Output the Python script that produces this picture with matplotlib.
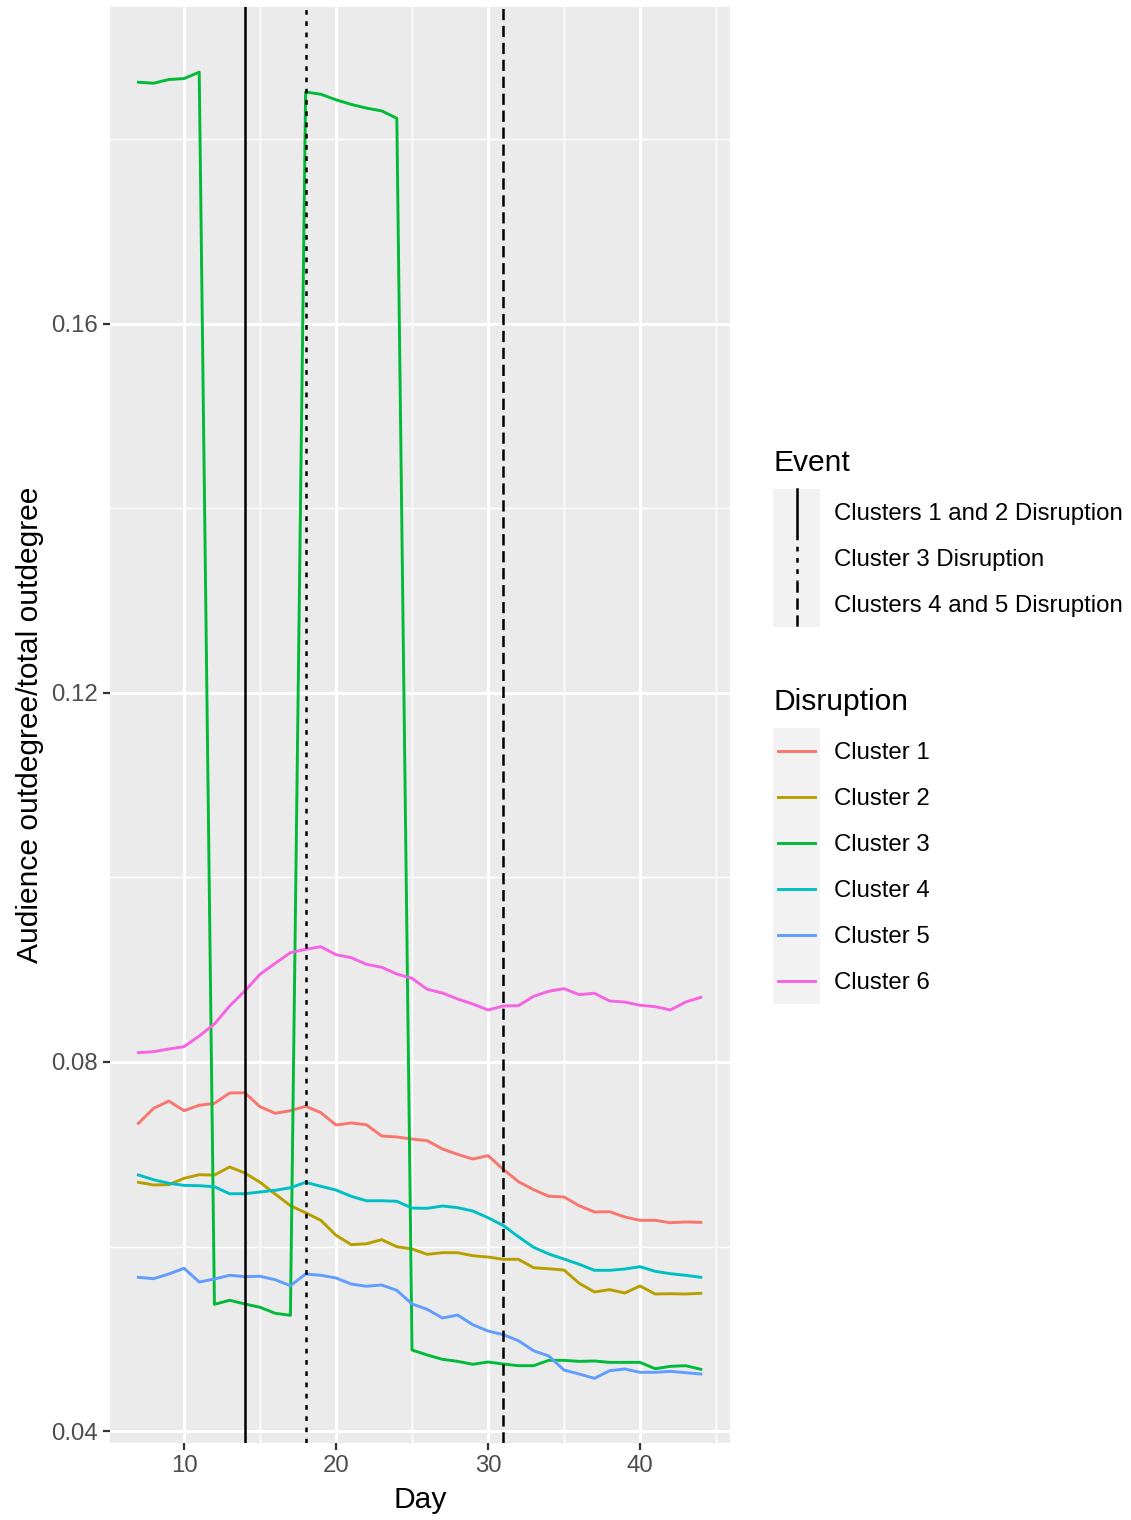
import matplotlib
matplotlib.use("Agg")
import matplotlib.pyplot as plt
from matplotlib.patches import Rectangle
from matplotlib.lines import Line2D

plt.rcParams['font.family'] = ['Liberation Sans', 'DejaVu Sans']
plt.rcParams['lines.scale_dashes'] = False

days = list(range(7, 45))

cluster1 = [0.07335, 0.07498, 0.07577, 0.07472, 0.07531, 0.07552, 0.07664, 0.07667, 0.07515, 0.07444,
            0.07472, 0.07520, 0.07451, 0.07317, 0.07339, 0.07320, 0.07198, 0.07187, 0.07165, 0.07147,
            0.07057, 0.06999, 0.06948, 0.06985, 0.06837, 0.06703, 0.06616, 0.06544, 0.06537, 0.06442,
            0.06374, 0.06377, 0.06320, 0.06284, 0.06284, 0.06258, 0.06266, 0.06262]
cluster2 = [0.06696, 0.06667, 0.06670, 0.06739, 0.06778, 0.06775, 0.06862, 0.06797, 0.06696, 0.06569,
            0.06442, 0.06366, 0.06284, 0.06122, 0.06020, 0.06030, 0.06074, 0.05998, 0.05973, 0.05915,
            0.05933, 0.05933, 0.05900, 0.05886, 0.05861, 0.05861, 0.05770, 0.05759, 0.05745, 0.05601,
            0.05507, 0.05532, 0.05496, 0.05572, 0.05485, 0.05488, 0.05485, 0.05493]
cluster3 = [0.1862, 0.1861, 0.1865, 0.1866, 0.1873, 0.05373, 0.05417, 0.05377, 0.05341, 0.05276,
            0.05254, 0.18515, 0.1849, 0.1843, 0.1838, 0.1834, 0.1831, 0.1823, 0.04878, 0.04824,
            0.04777, 0.04755, 0.04723, 0.04748, 0.04726, 0.04708, 0.04708, 0.04766, 0.04766, 0.04755,
            0.04759, 0.04744, 0.04744, 0.04744, 0.04675, 0.04701, 0.04708, 0.04669]
cluster4 = [0.06775, 0.06724, 0.06685, 0.06663, 0.06659, 0.06648, 0.06572, 0.06572, 0.06591, 0.06609,
            0.06637, 0.06696, 0.06653, 0.06612, 0.06544, 0.06496, 0.06496, 0.06490, 0.06417, 0.06414,
            0.06439, 0.06421, 0.06385, 0.06312, 0.06228, 0.06106, 0.05991, 0.05919, 0.05864, 0.05807,
            0.05742, 0.05742, 0.05756, 0.05781, 0.05731, 0.05705, 0.05688, 0.05666]
cluster5 = [0.05666, 0.05651, 0.05702, 0.05764, 0.05615, 0.05648, 0.05688, 0.05673, 0.05677, 0.05640,
            0.05575, 0.05702, 0.05688, 0.05659, 0.05593, 0.05569, 0.05583, 0.05525, 0.05377, 0.05319,
            0.05225, 0.05257, 0.05152, 0.05084, 0.05044, 0.04979, 0.04870, 0.04813, 0.04661, 0.04618,
            0.04571, 0.04654, 0.04672, 0.04636, 0.04636, 0.04647, 0.04632, 0.04618]
cluster6 = [0.08101, 0.08112, 0.08141, 0.08166, 0.08282, 0.08412, 0.08607, 0.08770, 0.08951, 0.09070,
            0.09185, 0.09222, 0.09250, 0.09163, 0.09131, 0.09059, 0.09027, 0.08954, 0.08907, 0.08788,
            0.08748, 0.08683, 0.08629, 0.08564, 0.08607, 0.08611, 0.08712, 0.08767, 0.08795, 0.08730,
            0.08745, 0.08661, 0.08650, 0.08615, 0.08600, 0.08564, 0.08650, 0.08701]

cluster_names = ["Cluster 1", "Cluster 2", "Cluster 3", "Cluster 4", "Cluster 5", "Cluster 6"]
cluster_colors = ["#F8766D", "#B79F00", "#00BA38", "#00BFC4", "#619CFF", "#F564E3"]
series = [cluster1, cluster2, cluster3, cluster4, cluster5, cluster6]

event_days = [14, 18, 31]
event_labels = ["Clusters 1 and 2 Disruption", "Cluster 3 Disruption", "Clusters 4 and 5 Disruption"]
event_styles = ["-", (0, (3.4, 4.7)), (0, (8.1, 4.1))]

x_ticks = [10, 20, 30, 40]
y_ticks = [0.04, 0.08, 0.12, 0.16]
y_tick_labels = ["0.04", "0.08", "0.12", "0.16"]

W, H = 1131, 1520
fig = plt.figure(figsize=(W / 100, H / 100), dpi=100)
fig.patch.set_facecolor("white")

L, R, T, B = 110, 730, 7, 1443
ax = fig.add_axes([L / W, 1 - B / H, (R - L) / W, (B - T) / H])
ax.set_facecolor("#EBEBEB")
for s in ax.spines.values():
    s.set_visible(False)

ax.set_xlim(5.13, 45.92)
ax.set_ylim(0.0387, 0.19436)

# grid
for v in [0.06, 0.10, 0.14, 0.18]:
    ax.axhline(v, color="white", lw=1.05, zorder=0.5)
for v in [15, 25, 35, 45]:
    ax.axvline(v, color="white", lw=1.05, zorder=0.5)
for v in y_ticks:
    ax.axhline(v, color="white", lw=2.1, zorder=0.6)
for v in x_ticks:
    ax.axvline(v, color="white", lw=2.1, zorder=0.6)

for vals, c in zip(series, cluster_colors):
    ax.plot(days, vals, color=c, lw=2.1, zorder=2, solid_joinstyle="round")

for d, ls in zip(event_days, event_styles):
    ax.axvline(d, color="black", lw=1.8, linestyle=ls, zorder=3)

ax.set_xticks(x_ticks)
ax.set_xticklabels([str(t) for t in x_ticks])
ax.set_yticks(y_ticks)
ax.set_yticklabels(y_tick_labels)
ax.tick_params(axis="both", length=5, width=1.6, color="#333333", labelcolor="#4D4D4D",
               labelsize=17.3, pad=4)
ax.set_xlabel("Day", fontsize=21.6, color="black", labelpad=6)
ax.set_ylabel("Audience outdegree/total outdegree", fontsize=21.6, color="black", labelpad=5)

# legends (drawn in pixel coordinates)
lg = fig.add_axes([0, 0, 1, 1])
lg.set_xlim(0, W)
lg.set_ylim(H, 0)
lg.axis("off")
lg.patch.set_alpha(0)

kx0, kw, kh = 773, 47, 46
tx = 834

lg.text(kx0, 463, "Event", fontsize=21.6, va="center", ha="left", color="black")
ey0 = 489
for i, (lab, ls) in enumerate(zip(event_labels, event_styles)):
    y0 = ey0 + i * kh
    lg.add_patch(Rectangle((kx0, y0), kw, kh, facecolor="#F2F2F2", edgecolor="none"))
    lg.add_line(Line2D([kx0 + kw / 2, kx0 + kw / 2], [y0, y0 + kh], color="black", lw=1.8,
                       linestyle=ls))
    lg.text(tx, y0 + kh / 2 + 2, lab, fontsize=17.3, va="center", ha="left", color="black")

lg.text(kx0, 702, "Disruption", fontsize=21.6, va="center", ha="left", color="black")
dy0 = 728
for i, (lab, c) in enumerate(zip(cluster_names, cluster_colors)):
    y0 = dy0 + i * kh
    lg.add_patch(Rectangle((kx0, y0), kw, kh, facecolor="#F2F2F2", edgecolor="none"))
    lg.add_line(Line2D([kx0 + 5, kx0 + kw - 5], [y0 + kh / 2, y0 + kh / 2], color=c, lw=2.1))
    lg.text(tx, y0 + kh / 2 + 2, lab, fontsize=17.3, va="center", ha="left", color="black")

fig.savefig("out.png", dpi=100, facecolor="white")
